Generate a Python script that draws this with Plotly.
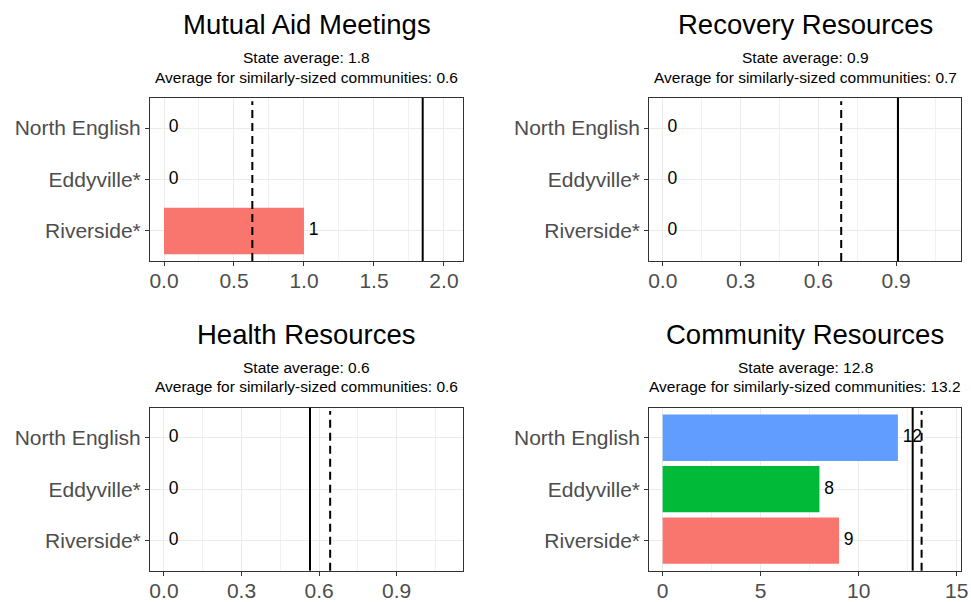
import plotly.graph_objects as go

# ---------------- data ----------------
communities = ["Riverside*", "Eddyville*", "North English"]
bar_colors = ["#F8766D", "#00BA38", "#619CFF"]

panel_titles = ["Mutual Aid Meetings", "Recovery Resources", "Health Resources", "Community Resources"]
mutual_aid = [1, 0, 0]
recovery = [0, 0, 0]
health = [0, 0, 0]
community = [9, 8, 12]
values = [mutual_aid, recovery, health, community]

state_avg = [1.848, 0.907, 0.565, 12.755]
similar_avg = [0.631, 0.688, 0.643, 13.21]
state_avg_label = ["1.8", "0.9", "0.6", "12.8"]
similar_avg_label = ["0.6", "0.7", "0.6", "13.2"]

x_ranges = [[-0.1, 2.136], [-0.052, 1.15], [-0.054, 1.157], [-0.68, 15.22]]
x_dticks = [0.5, 0.3, 0.3, 5]
x_tickformat = [".1f", ".1f", ".1f", "d"]

# ---------------- layout geometry ----------------
W, H = 971, 602
col_px = [(150, 463), (649.3, 961)]
row_px = [(98, 261), (407.7, 570.7)]

FONT = "Arial, Liberation Sans, sans-serif"

fig = go.Figure()
layout = dict(
    width=W, height=H,
    margin=dict(l=0, r=0, t=0, b=0, autoexpand=False),
    paper_bgcolor="white", plot_bgcolor="white",
    showlegend=False,
    font=dict(family=FONT),
    annotations=[], shapes=[],
)

for i in range(4):
    r, c = divmod(i, 2)
    x0, x1 = col_px[c]
    ytop, ybot = row_px[r]
    xd = [x0 / W, x1 / W]
    yd = [1 - ybot / H, 1 - ytop / H]
    ax = "" if i == 0 else str(i + 1)
    xref, yref = "x" + ax, "y" + ax

    vals = values[i]
    colors = [bar_colors[k] if vals[k] > 0 else "rgba(0,0,0,0)" for k in range(3)]
    fig.add_trace(go.Bar(
        x=vals, y=communities, orientation="h", width=0.9,
        marker=dict(color=colors, line=dict(width=0)),
        xaxis=xref, yaxis=yref, hoverinfo="x+y",
    ))
    fig.add_trace(go.Scatter(
        x=vals, y=communities, mode="markers+text", text=[str(v) for v in vals],
        textposition="middle right",
        marker=dict(size=6, color="rgba(0,0,0,0)"),
        textfont=dict(family=FONT, size=17.5, color="black"),
        xaxis=xref, yaxis=yref, hoverinfo="skip", cliponaxis=False,
    ))

    layout["xaxis" + ax] = dict(
        domain=xd, anchor=yref, range=x_ranges[i], automargin=False,
        tick0=0, dtick=x_dticks[i], tickformat=x_tickformat[i],
        showgrid=True, gridcolor="#EBEBEB", gridwidth=1.1,
        minor=dict(showgrid=True, gridcolor="#F1F1F1", gridwidth=0.8, dtick=x_dticks[i] / 2, tick0=0),
        zeroline=False,
        showline=True, mirror=True, linecolor="#333333", linewidth=1.1,
        ticks="outside", ticklen=4, tickcolor="#333333", tickwidth=1.1,
        ticklabelstandoff=-3,
        tickfont=dict(family=FONT, size=21, color="#4D4D4D"),
        fixedrange=True,
    )
    layout["yaxis" + ax] = dict(
        domain=yd, anchor=xref, type="category", automargin=False,
        categoryorder="array", categoryarray=communities,
        range=[-0.583, 2.583],
        showgrid=True, gridcolor="#EBEBEB", gridwidth=1.1,
        zeroline=False,
        showline=True, mirror=True, linecolor="#333333", linewidth=1.1,
        ticks="outside", ticklen=4, tickcolor="#333333", tickwidth=1.1,
        tickfont=dict(family=FONT, size=21, color="#4D4D4D"),
        fixedrange=True,
    )

    # reference lines
    layout["shapes"].append(dict(
        type="line", xref=xref, yref=yref + " domain",
        x0=state_avg[i], x1=state_avg[i], y0=0, y1=1,
        line=dict(color="black", width=2),
    ))
    layout["shapes"].append(dict(
        type="line", xref=xref, yref=yref + " domain",
        x0=similar_avg[i], x1=similar_avg[i], y0=0, y1=0.98,
        line=dict(color="black", width=2, dash="8px,5px"),
    ))

    xc = (xd[0] + xd[1]) / 2
    layout["annotations"].append(dict(
        text=panel_titles[i], x=xc, xref="paper", xanchor="center",
        y=1 - (ytop - 73) / H, yref="paper", yanchor="middle",
        showarrow=False, font=dict(family=FONT, size=27.5, color="black"),
    ))
    layout["annotations"].append(dict(
        text="State average: " + state_avg_label[i], x=xc, xref="paper", xanchor="center",
        y=1 - (ytop - 40) / H, yref="paper", yanchor="middle",
        showarrow=False, font=dict(family=FONT, size=15.5, color="black"),
    ))
    layout["annotations"].append(dict(
        text="Average for similarly-sized communities: " + similar_avg_label[i], x=xc, xref="paper",
        xanchor="center",
        y=1 - (ytop - 21) / H, yref="paper", yanchor="middle",
        showarrow=False, font=dict(family=FONT, size=15.5, color="black"),
    ))

fig.update_layout(**layout)
fig.write_html(
    "out.html",
    config={"displayModeBar": False},
    post_script="document.body.style.margin='0';document.body.style.overflow='hidden';",
)
